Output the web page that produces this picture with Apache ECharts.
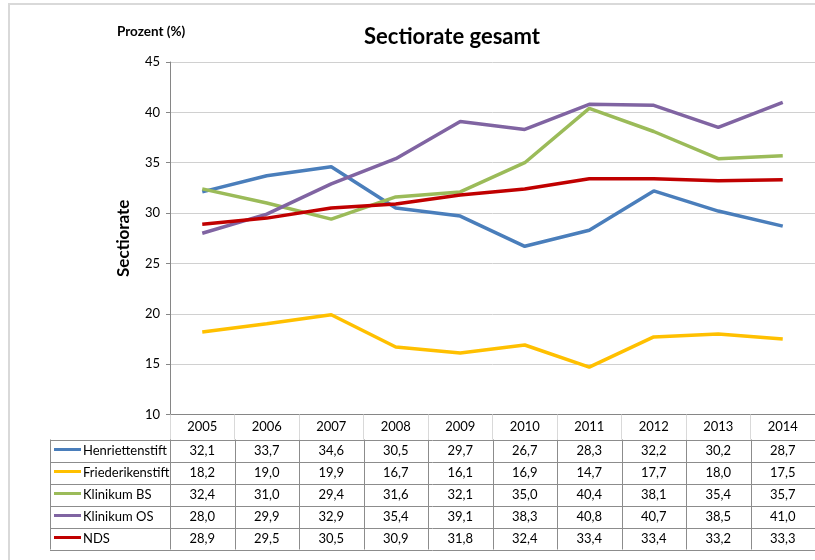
<!DOCTYPE html>
<html>
<head>
<meta charset="utf-8">
<script src="https://cdn.jsdelivr.net/npm/echarts@6/dist/echarts.min.js"></script>
<style>
    html, body { margin: 0; padding: 0; background: #fff; }
    #chart { width: 815px; height: 560px; }
</style>
</head>
<body>
<div id="chart"></div>
<script>
// Daten (Sectiorate in %)
var years = ['2005', '2006', '2007', '2008', '2009', '2010', '2011', '2012', '2013', '2014'];
var henriettenstift = [32.1, 33.7, 34.6, 30.5, 29.7, 26.7, 28.3, 32.2, 30.2, 28.7];
var friederikenstift = [18.2, 19.0, 19.9, 16.7, 16.1, 16.9, 14.7, 17.7, 18.0, 17.5];
var klinikumBS = [32.4, 31.0, 29.4, 31.6, 32.1, 35.0, 40.4, 38.1, 35.4, 35.7];
var klinikumOS = [28.0, 29.9, 32.9, 35.4, 39.1, 38.3, 40.8, 40.7, 38.5, 41.0];
var nds = [28.9, 29.5, 30.5, 30.9, 31.8, 32.4, 33.4, 33.4, 33.2, 33.3];
var seriesNames = ['Henriettenstift', 'Friederikenstift', 'Klinikum BS', 'Klinikum OS', 'NDS'];
var yTicks = [10, 15, 20, 25, 30, 35, 40, 45];

var seriesData = [henriettenstift, friederikenstift, klinikumBS, klinikumOS, nds];
var colors = ['#4a7ebb', '#ffc000', '#9bbb59', '#8064a2', '#c00000'];
var font = 'Lato, "Open Sans", sans-serif';

var chart = echarts.init(document.getElementById('chart'));

var series = [];
for (var i = 0; i < seriesNames.length; i++) {
    series.push({
        name: seriesNames[i],
        type: 'line',
        data: seriesData[i],
        showSymbol: false,
        symbol: 'none',
        lineStyle: { width: 3.5, color: colors[i] },
        itemStyle: { color: colors[i] },
        animation: false
    });
}

var option = {
    animation: false,
    textStyle: { fontFamily: font },
    grid: { left: 170, top: 62, width: 654, height: 352.5 },
    xAxis: {
        type: 'category',
        data: years,
        boundaryGap: true,
        axisLine: { lineStyle: { color: '#868686', width: 1 } },
        axisTick: { show: true, length: 25, interval: 0, lineStyle: { color: '#d9d9d9' } },
        axisLabel: { margin: 6, color: '#000', fontSize: 13, fontFamily: font, interval: 0 }
    },
    yAxis: {
        type: 'value',
        min: yTicks[0],
        max: yTicks[yTicks.length - 1],
        interval: 5,
        name: 'Sectiorate',
        nameLocation: 'middle',
        nameRotate: 90,
        nameGap: 38,
        nameTextStyle: { fontSize: 17, fontWeight: 'bold', color: '#000', fontFamily: font },
        axisLine: { show: true, lineStyle: { color: '#868686' } },
        axisTick: { show: true, length: 4, lineStyle: { color: '#868686' } },
        axisLabel: { margin: 10, color: '#000', fontSize: 13, fontFamily: font },
        splitLine: { lineStyle: { color: '#d0d0d0', width: 1 } }
    },
    series: series
};
chart.setOption(option);

// Datentabelle unter dem Diagramm
function fmt(v) {
    return v.toFixed(1).replace('.', ',');
}
var tableTop = 439.5, rowH = 22, tableLeft = 50;
var xs = [];
for (var k = 0; k < years.length; k++) {
    xs.push(chart.convertToPixel({ xAxisIndex: 0 }, k));
}
var step = xs[1] - xs[0];
var gridLeft = xs[0] - step / 2;
var gridRight = xs[xs.length - 1] + step / 2;
var tableBottom = tableTop + rowH * seriesNames.length;

var elements = [];
// Rahmen
elements.push({
    type: 'rect', silent: true,
    shape: { x: 9, y: 4, width: 830, height: 600 },
    style: { fill: null, stroke: '#d9d9d9', lineWidth: 2 }
});
// Titel
elements.push({
    type: 'text', x: 452, y: 37,
    style: { text: 'Sectiorate gesamt', fontSize: 22, fontWeight: 'bold', fill: '#000', fontFamily: font, align: 'center', verticalAlign: 'middle' }
});
elements.push({
    type: 'text', x: 117, y: 32,
    style: { text: 'Prozent (%)', fontSize: 13.5, fontWeight: 'bold', fill: '#000', fontFamily: font, align: 'left', verticalAlign: 'middle' }
});
// horizontale Linien
for (var r = 0; r <= seriesNames.length; r++) {
    var yy = Math.round(tableTop + r * rowH) + 0.5;
    elements.push({
        type: 'line', silent: true,
        shape: { x1: tableLeft, y1: yy, x2: gridRight, y2: yy },
        style: { stroke: '#8c8c8c', lineWidth: 1 }
    });
}
// vertikale Linien
elements.push({
    type: 'line', silent: true,
    shape: { x1: tableLeft + 0.5, y1: tableTop, x2: tableLeft + 0.5, y2: tableBottom },
    style: { stroke: '#8c8c8c', lineWidth: 1 }
});
for (var c = 0; c <= years.length; c++) {
    var xx = Math.round(gridLeft + c * step) + 0.5;
    elements.push({
        type: 'line', silent: true,
        shape: { x1: xx, y1: c === 0 ? 414 : tableTop, x2: xx, y2: tableBottom },
        style: { stroke: '#8c8c8c', lineWidth: 1 }
    });
}
// Zeilen: Legende + Werte
for (var s = 0; s < seriesNames.length; s++) {
    var cy = tableTop + rowH * (s + 0.5);
    elements.push({
        type: 'line', silent: true,
        shape: { x1: 54, y1: cy - 1, x2: 81, y2: cy - 1 },
        style: { stroke: colors[s], lineWidth: 3 }
    });
    elements.push({
        type: 'text', silent: true, x: 83, y: cy,
        style: { text: seriesNames[s], fontSize: 13, fill: '#000', fontFamily: font, verticalAlign: 'middle', align: 'left' }
    });
    for (var j = 0; j < years.length; j++) {
        elements.push({
            type: 'text', silent: true, x: xs[j], y: cy,
            style: { text: fmt(seriesData[s][j]), fontSize: 13, fill: '#000', fontFamily: font, verticalAlign: 'middle', align: 'center' }
        });
    }
}
chart.setOption({ graphic: elements });
</script>
</body>
</html>
